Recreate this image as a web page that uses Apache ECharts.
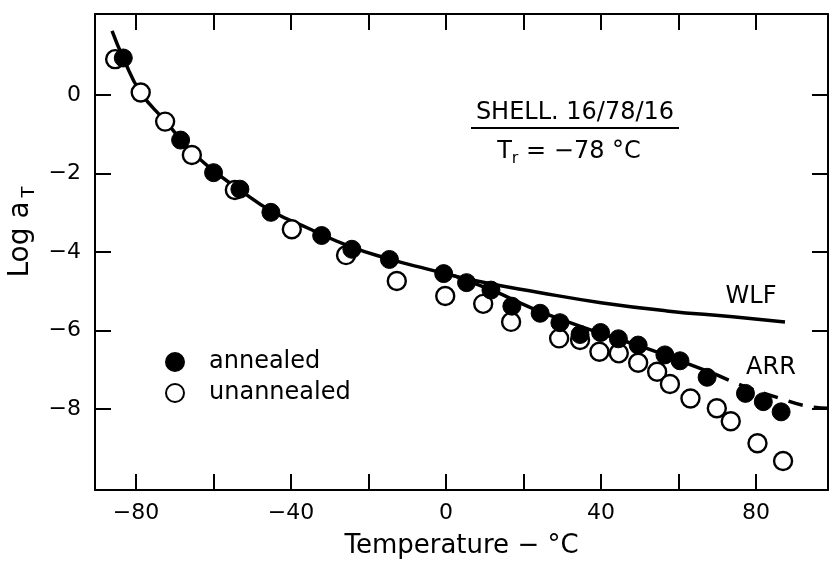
<!DOCTYPE html>
<html>
<head>
<meta charset="utf-8">
<title>Log aT vs Temperature</title>
<script src="https://cdn.jsdelivr.net/npm/echarts@6/dist/echarts.min.js"></script>
<style>
  html, body { margin: 0; padding: 0; background: #fff; }
  #chart { width: 829px; height: 566px; }
</style>
</head>
<body>
<div id="chart"></div>
<script>
// Tick positions and labels
const temperatureTicks = [-80, -60, -40, -20, 0, 20, 40, 60, 80];
const temperatureLabels = [-80, -40, 0, 40, 80];
const logTicks = [-8, -6, -4, -2, 0];

// Measured shift factors
const annealedTemp = [-83.3, -68.5, -60.0, -53.2, -45.2, -32.1, -24.3, -14.6, -0.6, 5.3, 11.6, 17.0, 24.3, 29.4, 34.6, 39.9, 44.5, 49.6, 56.5, 60.4, 67.4, 77.3, 81.9, 86.5];
const annealedLogA = [0.94, -1.15, -1.98, -2.40, -2.99, -3.58, -3.93, -4.19, -4.55, -4.78, -4.97, -5.38, -5.56, -5.80, -6.10, -6.05, -6.21, -6.37, -6.62, -6.77, -7.19, -7.60, -7.81, -8.07];

const unannealedTemp = [-85.4, -78.8, -72.5, -65.6, -54.5, -39.8, -25.8, -12.7, -0.2, 9.6, 16.8, 29.2, 34.6, 39.6, 44.6, 49.6, 54.5, 57.8, 63.1, 69.9, 73.5, 80.4, 87.0];
const unannealedLogA = [0.91, 0.06, -0.68, -1.53, -2.42, -3.42, -4.08, -4.74, -5.12, -5.32, -5.78, -6.20, -6.24, -6.54, -6.58, -6.82, -7.05, -7.36, -7.73, -7.98, -8.31, -8.87, -9.32];

// WLF fit curve
const wlfTemp = [-86.2, -83.3, -78.8, -72.5, -66.0, -60.0, -53.5, -45.2, -35.0, -25.0, -15.0, -5.0, 8.0, 24.0, 40.0, 57.0, 74.0, 87.5];
const wlfLogA = [1.63, 0.94, 0.06, -0.66, -1.40, -1.93, -2.40, -2.95, -3.42, -3.85, -4.17, -4.43, -4.74, -5.03, -5.29, -5.50, -5.65, -5.78];

// Arrhenius fit: solid over the data, dashed beyond it
const arrTemp = [2.0, 12.0, 22.0, 32.0, 42.0, 52.0, 62.0, 69.5];
const arrLogA = [-4.60, -4.98, -5.42, -5.80, -6.14, -6.46, -6.83, -7.11];
const arrDashTemp = [69.5, 77.0, 86.0, 93.0, 98.6];
const arrDashLogA = [-7.11, -7.42, -7.72, -7.92, -7.98];

const FONT = 'DejaVu Sans';
const zip = (xs, ys) => xs.map((x, i) => [x, ys[i]]);
const minusFmt = v => '{v|' + (v < 0 ? '\u2212' + Math.abs(v) : String(v)) + '}';

const frameLine = { show: true, onZero: false, lineStyle: { color: '#000', width: 2 } };
const innerTick = { show: true, inside: true, length: 16, lineStyle: { color: '#000', width: 2 } };
const tickLabelRich = { v: { color: '#000', fontFamily: FONT, fontSize: 22, lineHeight: 24 } };

const chart = echarts.init(document.getElementById('chart'), null, { renderer: 'canvas' });

chart.setOption({
  backgroundColor: '#fff',
  animation: false,
  textStyle: { fontFamily: FONT, color: '#000' },
  grid: { left: 95, top: 14, right: 1, bottom: 76, containLabel: false, outerBoundsMode: 'none' },
  xAxis: [
    {
      type: 'value', position: 'bottom', min: -90.6, max: 98.6,
      axisLine: frameLine,
      axisTick: Object.assign({ customValues: temperatureTicks }, innerTick),
      axisLabel: {
        customValues: temperatureLabels, formatter: minusFmt, margin: 11,
        color: '#000', fontFamily: FONT, fontSize: 22, rich: tickLabelRich
      },
      splitLine: { show: false },
      name: 'Temperature \u2212 \u00B0C', nameLocation: 'middle', nameGap: 43,
      nameTextStyle: { color: '#000', fontFamily: FONT, fontSize: 26 }
    },
    {
      type: 'value', position: 'top', min: -90.6, max: 98.6,
      axisLine: frameLine,
      axisTick: Object.assign({ customValues: temperatureTicks }, innerTick),
      axisLabel: { show: false },
      splitLine: { show: false }
    }
  ],
  yAxis: [
    {
      type: 'value', position: 'left', min: -10.06, max: 2.06,
      axisLine: frameLine,
      axisTick: Object.assign({ customValues: logTicks }, innerTick),
      axisLabel: {
        customValues: logTicks, formatter: minusFmt, margin: 14,
        color: '#000', fontFamily: FONT, fontSize: 22, rich: tickLabelRich
      },
      splitLine: { show: false }
    },
    {
      type: 'value', position: 'right', min: -10.06, max: 2.06,
      axisLine: frameLine,
      axisTick: Object.assign({ customValues: logTicks }, innerTick),
      axisLabel: { show: false },
      splitLine: { show: false }
    }
  ],
  legend: {
    data: ['annealed', 'unannealed'],
    orient: 'vertical', left: 160, top: 345,
    itemWidth: 18, itemHeight: 18, itemGap: 7,
    icon: 'circle',
    textStyle: { color: '#000', fontFamily: FONT, fontSize: 24, padding: [0, 0, 0, 20] }
  },
  series: [
    {
      name: 'WLF', type: 'line', data: zip(wlfTemp, wlfLogA),
      smooth: 0.5, symbol: 'none', z: 2, silent: true,
      lineStyle: { color: '#000', width: 3.5 }
    },
    {
      name: 'ARR', type: 'line', data: zip(arrTemp, arrLogA),
      smooth: 0.5, symbol: 'none', z: 2, silent: true,
      lineStyle: { color: '#000', width: 3.5 }
    },
    {
      name: 'ARR extrapolated', type: 'line', data: zip(arrDashTemp, arrDashLogA),
      smooth: 0.5, symbol: 'none', z: 2, silent: true,
      lineStyle: { color: '#000', width: 3.5, type: [15, 11] }
    },
    {
      name: 'unannealed', type: 'scatter', data: zip(unannealedTemp, unannealedLogA),
      symbol: 'circle', symbolSize: 18, z: 3,
      itemStyle: { color: '#fff', borderColor: '#000', borderWidth: 2.4, opacity: 1 }
    },
    {
      name: 'annealed', type: 'scatter', data: zip(annealedTemp, annealedLogA),
      symbol: 'circle', symbolSize: 18, z: 4,
      itemStyle: { color: '#000', borderColor: '#000', borderWidth: 1, opacity: 1 }
    }
  ],
  graphic: [
    {
      type: 'text', x: 21, y: 232, rotation: Math.PI / 2,
      style: {
        text: '{m|Log a}{s|T}', align: 'center', verticalAlign: 'middle',
        rich: {
          m: { fontFamily: FONT, fontSize: 28, fill: '#000', lineHeight: 34, verticalAlign: 'middle' },
          s: { fontFamily: FONT, fontSize: 18, fill: '#000', lineHeight: 16, verticalAlign: 'bottom', padding: [0, 0, 0, 4] }
        }
      }
    },
    {
      type: 'text', x: 575, y: 113,
      style: { text: 'SHELL. 16/78/16', fontFamily: FONT, fontSize: 24, fill: '#000', align: 'center', verticalAlign: 'middle' }
    },
    {
      type: 'line', shape: { x1: 471, y1: 128, x2: 679, y2: 128 },
      style: { stroke: '#000', lineWidth: 2 }
    },
    {
      type: 'text', x: 569, y: 152,
      style: {
        text: '{m|T}{s|r}{m| = \u221278 \u00B0C}', align: 'center', verticalAlign: 'middle',
        rich: {
          m: { fontFamily: FONT, fontSize: 24, fill: '#000', lineHeight: 30, verticalAlign: 'middle' },
          s: { fontFamily: FONT, fontSize: 16, fill: '#000', lineHeight: 14, verticalAlign: 'bottom' }
        }
      }
    },
    {
      type: 'text', x: 751, y: 297,
      style: { text: 'WLF', fontFamily: FONT, fontSize: 24, fill: '#000', align: 'center', verticalAlign: 'middle' }
    },
    {
      type: 'text', x: 771, y: 368,
      style: { text: 'ARR', fontFamily: FONT, fontSize: 24, fill: '#000', align: 'center', verticalAlign: 'middle' }
    }
  ]
});
</script>
</body>
</html>
